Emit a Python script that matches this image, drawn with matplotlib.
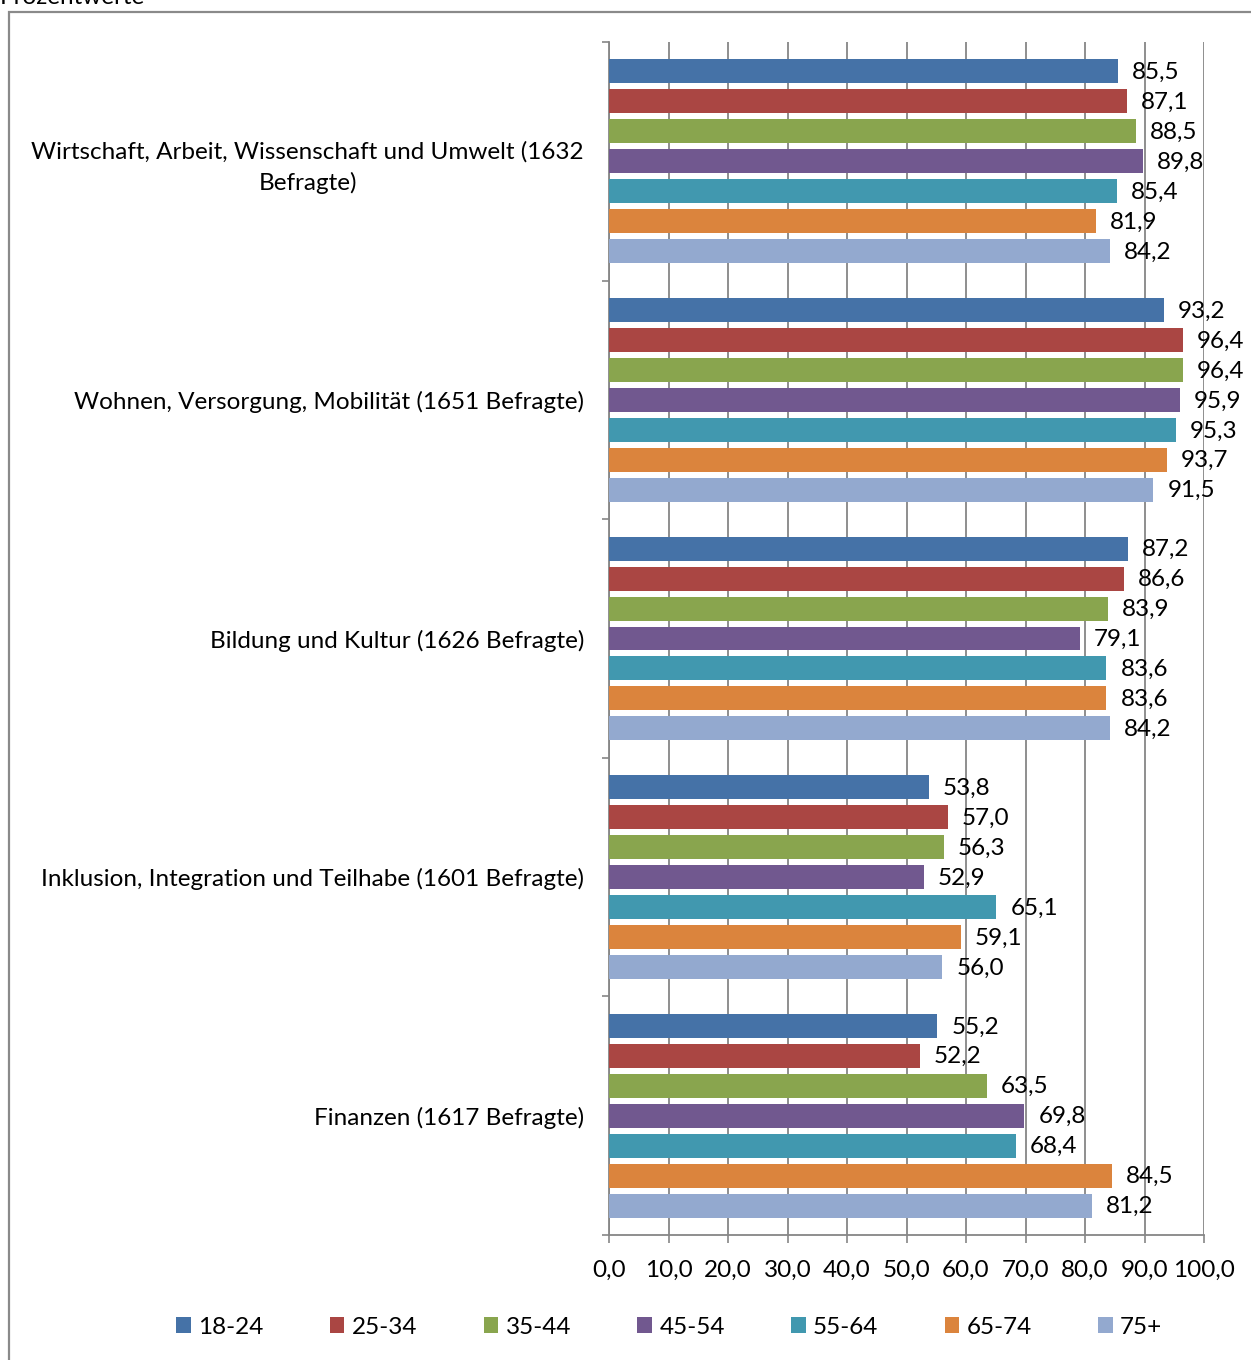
import numpy as np
import matplotlib.pyplot as plt
from matplotlib.patches import Rectangle

plt.rcParams['font.family'] = ['Lato', 'DejaVu Sans']

categories = [
    "Wirtschaft, Arbeit, Wissenschaft und Umwelt (1632\nBefragte)",
    "Wohnen, Versorgung, Mobilität (1651 Befragte)",
    "Bildung und Kultur (1626 Befragte)",
    "Inklusion, Integration und Teilhabe (1601 Befragte)",
    "Finanzen (1617 Befragte)",
]
age_groups = ["18-24", "25-34", "35-44", "45-54", "55-64", "65-74", "75+"]

# Prozentwerte je Altersgruppe, Reihenfolge wie categories
v_18_24 = [85.5, 93.2, 87.2, 53.8, 55.2]
v_25_34 = [87.1, 96.4, 86.6, 57.0, 52.2]
v_35_44 = [88.5, 96.4, 83.9, 56.3, 63.5]
v_45_54 = [89.8, 95.9, 79.1, 52.9, 69.8]
v_55_64 = [85.4, 95.3, 83.6, 65.1, 68.4]
v_65_74 = [81.9, 93.7, 83.6, 59.1, 84.5]
v_75 = [84.2, 91.5, 84.2, 56.0, 81.2]
series = [v_18_24, v_25_34, v_35_44, v_45_54, v_55_64, v_65_74, v_75]

colors = ["#4572A7", "#AA4643", "#89A54E", "#71588F", "#4198AF", "#DB843D", "#93A9CF"]
x_ticks = np.arange(0, 101, 10)

W, H = 1251, 1360
fig = plt.figure(figsize=(W / 100, H / 100), dpi=100)
ax = fig.add_axes([609 / W, 1 - 1235 / H, (1204 - 609) / W, (1235 - 42) / H])

fs = 17.5
grid_c = "#868686"
step = 30 / 239
height = 24 / 239
pos = np.arange(len(categories))

for i, (vals, name, c) in enumerate(zip(series, age_groups, colors)):
    y = pos + (i - 3) * step
    ax.barh(y, vals, height=height, color=c, label=name, zorder=3)
    for yy, v in zip(y, vals):
        ax.annotate(f"{v:.1f}".replace(".", ","), (v, yy), xytext=(14, -1),
                    textcoords="offset pixels", va="center", ha="left",
                    fontsize=fs, zorder=4)

ax.set_xlim(0, 100)
ax.set_ylim(len(categories) - 0.5, -0.5)
ax.set_xticks(x_ticks)
ax.set_xticklabels([f"{t:.1f}".replace(".", ",") for t in x_ticks], fontsize=fs)
ax.set_yticks(pos)
ax.set_yticklabels(categories, fontsize=fs, ha="right", multialignment="center",
                   linespacing=1.5)
ax.set_yticks(np.arange(-0.5, len(categories)), minor=True)
ax.tick_params(axis="y", which="major", length=0, pad=18)
ax.tick_params(axis="y", which="minor", length=5, width=1.2, color=grid_c, direction="out")
ax.tick_params(axis="x", length=6, width=1.2, color=grid_c, pad=12)
ax.grid(axis="x", color=grid_c, linewidth=1.3, zorder=0)

for s in ["top", "right"]:
    ax.spines[s].set_visible(False)
for s in ["left", "bottom"]:
    ax.spines[s].set_color(grid_c)
    ax.spines[s].set_linewidth(1.3)

fig.legend(loc="center", bbox_to_anchor=(0.535, 1 - 1327 / H), ncol=7, frameon=False,
           fontsize=fs, handlelength=0.6, handleheight=0.6, handletextpad=0.3,
           columnspacing=2.73)

# Rahmen um das Diagramm
fig.patches.append(Rectangle((9 / W, -0.05), 1.2, 1.05 - 12 / H, transform=fig.transFigure,
                             fill=False, edgecolor="#8a8a8a", linewidth=1.6))
fig.text(0.0, 1 - 4 / H, "Prozentwerte", fontsize=fs, va="baseline", ha="left")

fig.savefig("out.png", dpi=100)
